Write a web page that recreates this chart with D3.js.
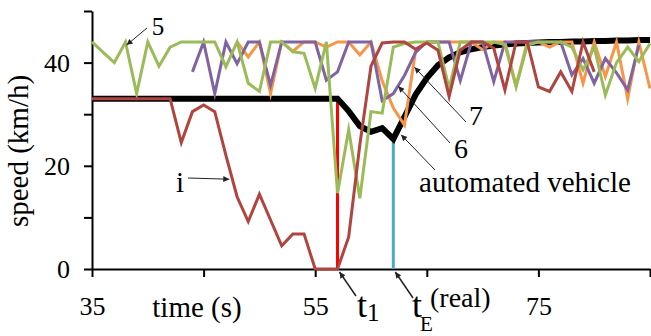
<!DOCTYPE html>
<html>
<head>
<meta charset="utf-8">
<script src="https://cdn.jsdelivr.net/npm/d3@7"></script>
<style>
  body { margin: 0; background: #fff; }
  svg { display: block; }
  text { font-family: "Times New Roman", Times, "Liberation Serif", "DejaVu Serif", serif; fill: #000; }
</style>
</head>
<body>
<div id="chart"></div>
<script>
// time axis (s), one sample per second
var times = [35,36,37,38,39,40,41,42,43,44,45,46,47,48,49,50,51,52,53,54,55,56,57,58,59,60,
             61,62,63,64,65,66,67,68,69,70,71,72,73,74,75,76,77,78,79,80,81,82,83,84,85];

// speeds (km/h), null = not recorded
var automated = [33,33,33,33,33,33,33,33,33,33,33,33,33,33,33,33,33,33,33,33,33,33,33,30.6,27.7,26.6,
                 27.3,25.2,29.5,33.8,37,39.5,41,42,42.6,43,43.3,43.5,43.7,43.8,43.9,44,44,44.1,44.1,44.2,44.2,44.3,44.3,44.4,44.4];
var vehicleI  = [33,33,33,33,33,33,33,33,24.5,30.5,31.8,30.5,22,14,9.2,14.5,9.5,4.5,6.8,6.8,0,0,0,6.2,24.1,39.3,
                 43.8,44,44,42.6,43.8,42.4,33.4,42.4,44,44,42.8,34.7,44,44,35.3,34.4,38.2,34.4,44,38.2,null,null,null,null,null];
var vehicle5  = [44,42,40,44,34,44,39.3,43,44,44,44,44,39.2,44,36,34.4,44,44,42.1,41.8,35,44,14.7,27,13.7,30.5,
                 30.2,43,43.7,44,44,44,35,44,44,44,44,43.5,35.3,43.4,44,44,44,43,38.6,43,33.7,40,43,40.2,43.7];
var vehicle7  = [null,null,null,null,null,null,null,null,null,38.2,44,34,44,39.8,44,44,35.6,44,44,44,44,36.6,38.2,44,44,44,
                 32.6,34,37.5,42,44,44,44,36.5,44,44,36.3,44,44,44,44,44,44,37.6,40.8,36,40.8,38,34.7,43.4,null];
var vehicle6  = [null,null,null,null,null,null,null,null,null,null,null,null,null,44,41.1,44,34,44,42.2,44,44,43,44,44,41.5,44,
                 36.5,31.2,27.9,42.4,44,44,44,44,44,42.5,44,44,35.5,44,44,43,44,44,36,44,37.3,44,33,44,35];

var xTicks  = [35,45,55,65,75,85];
var xLabels = ["35","","55","","75",""];
var yTicks  = [0,10,20,30,40,50];
var yLabels = ["0","","20","","40",""];

var t1 = 57, tE = 62;

var W = 651, H = 336;
var serif = "'Times New Roman', Times, 'Liberation Serif', 'DejaVu Serif', serif";
var x = d3.scaleLinear().domain([35,85]).range([92,650]);
var y = d3.scaleLinear().domain([0,50]).range([269,11]);

var svg = d3.select("#chart").append("svg").attr("width", W).attr("height", H)
  .attr("font-family", serif);
svg.append("rect").attr("width", W).attr("height", H).attr("fill", "#fff");

svg.append("defs").append("marker")
  .attr("id", "arr").attr("viewBox", "0 0 10 10")
  .attr("refX", 10).attr("refY", 5)
  .attr("markerWidth", 9).attr("markerHeight", 6)
  .attr("markerUnits", "userSpaceOnUse")
  .attr("orient", "auto")
  .append("path").attr("d", "M0,0L10,5L0,10z").attr("fill", "#222");

// axes
var xAxis = svg.append("g")
  .attr("transform", "translate(0," + y(0) + ")")
  .call(d3.axisBottom(x).tickValues(xTicks).tickSize(8).tickSizeOuter(0)
        .tickFormat(function(d, i) { return xLabels[i]; }));
var yAxis = svg.append("g")
  .attr("transform", "translate(" + x(35) + ",0)")
  .call(d3.axisLeft(y).tickValues(yTicks).tickSize(8).tickSizeOuter(0)
        .tickFormat(function(d, i) { return yLabels[i]; }));

[xAxis, yAxis].forEach(function(a) {
  a.attr("font-family", serif);
  a.select(".domain").attr("stroke", "#000").attr("stroke-width", 2);
  a.selectAll(".tick line").attr("stroke", "#000").attr("stroke-width", 2);
  a.selectAll("text").attr("font-family", serif)
    .attr("font-size", 26).attr("fill", "#000");
});
xAxis.selectAll("text").attr("y", 46).attr("dy", 0);
yAxis.selectAll("text").attr("x", -22).attr("dy", "0.34em");

svg.append("text").attr("x", 197).attr("y", 317).attr("text-anchor", "middle")
  .attr("font-size", 29).text("time (s)");
svg.append("text").attr("transform", "translate(28,151) rotate(-90)")
  .attr("text-anchor", "middle").attr("font-size", 29).text("speed (km/h)");

// event markers
svg.append("line").attr("x1", x(t1)).attr("x2", x(t1))
  .attr("y1", y(0)).attr("y2", y(automated[times.indexOf(t1)]) + 2)
  .attr("stroke", "#ff0000").attr("stroke-width", 3);
svg.append("line").attr("x1", x(tE)).attr("x2", x(tE))
  .attr("y1", y(0)).attr("y2", y(automated[times.indexOf(tE)]) + 2)
  .attr("stroke", "#4bacc6").attr("stroke-width", 3);

var line = d3.line()
  .defined(function(d) { return d[1] != null; })
  .x(function(d) { return x(d[0]); })
  .y(function(d) { return y(d[1]); });

function pairs(vals) { return times.map(function(t, i) { return [t, vals[i]]; }); }

var series = [
  { vals: automated, color: "#000000", w: 6 },
  { vals: vehicle6,  color: "#f79646", w: 3 },
  { vals: vehicle7,  color: "#8064a2", w: 3 },
  { vals: vehicle5,  color: "#9bbb59", w: 3 },
  { vals: vehicleI,  color: "#b0443f", w: 3 }
];
series.forEach(function(s) {
  svg.append("path").datum(pairs(s.vals))
    .attr("d", line).attr("fill", "none")
    .attr("stroke", s.color).attr("stroke-width", s.w)
    .attr("stroke-linejoin", "miter").attr("stroke-miterlimit", 6);
});

// annotations
var notes = [
  { label: "5", tip: [38.1, 43.4], from: [147, 28], tx: 158, ty: 35, size: 25 },
  { label: "i", tip: [47.3, 17.4], from: [188, 178], tx: 180, ty: 192, size: 29 },
  { label: "7", tip: [63.9, 39.1], from: [466, 122], tx: 476, ty: 125, size: 28 },
  { label: "6", tip: [62.45, 35.4], from: [450, 143], tx: 461, ty: 158, size: 28 },
  { label: "automated vehicle", tip: [62.7, 26], from: [435, 170], tx: 525, ty: 192, size: 29 }
];
notes.forEach(function(n) {
  svg.append("line").attr("x1", n.from[0]).attr("y1", n.from[1])
    .attr("x2", x(n.tip[0])).attr("y2", y(n.tip[1]))
    .attr("stroke", "#222").attr("stroke-width", 1).attr("marker-end", "url(#arr)");
  svg.append("text").attr("x", n.tx).attr("y", n.ty).attr("text-anchor", "middle")
    .attr("font-size", n.size).text(n.label);
});

// t1 and tE labels
svg.append("line").attr("x1", 356).attr("y1", 296).attr("x2", x(t1) + 2).attr("y2", y(0) + 3)
  .attr("stroke", "#222").attr("stroke-width", 1.5).attr("marker-end", "url(#arr)");
svg.append("line").attr("x1", 413).attr("y1", 298).attr("x2", x(tE) + 2).attr("y2", y(0) + 3)
  .attr("stroke", "#222").attr("stroke-width", 1.5).attr("marker-end", "url(#arr)");

var t1Text = svg.append("text").attr("x", 357).attr("y", 317).attr("font-size", 36);
t1Text.append("tspan").text("t");
t1Text.append("tspan").attr("font-size", 25).attr("dy", 4).text("1");

svg.append("text").attr("x", 412).attr("y", 317).attr("font-size", 36).text("t");
svg.append("text").attr("x", 420).attr("y", 331).attr("font-size", 21).text("E");
svg.append("text").attr("x", 430).attr("y", 307).attr("font-size", 28).text("(real)");
</script>
</body>
</html>
